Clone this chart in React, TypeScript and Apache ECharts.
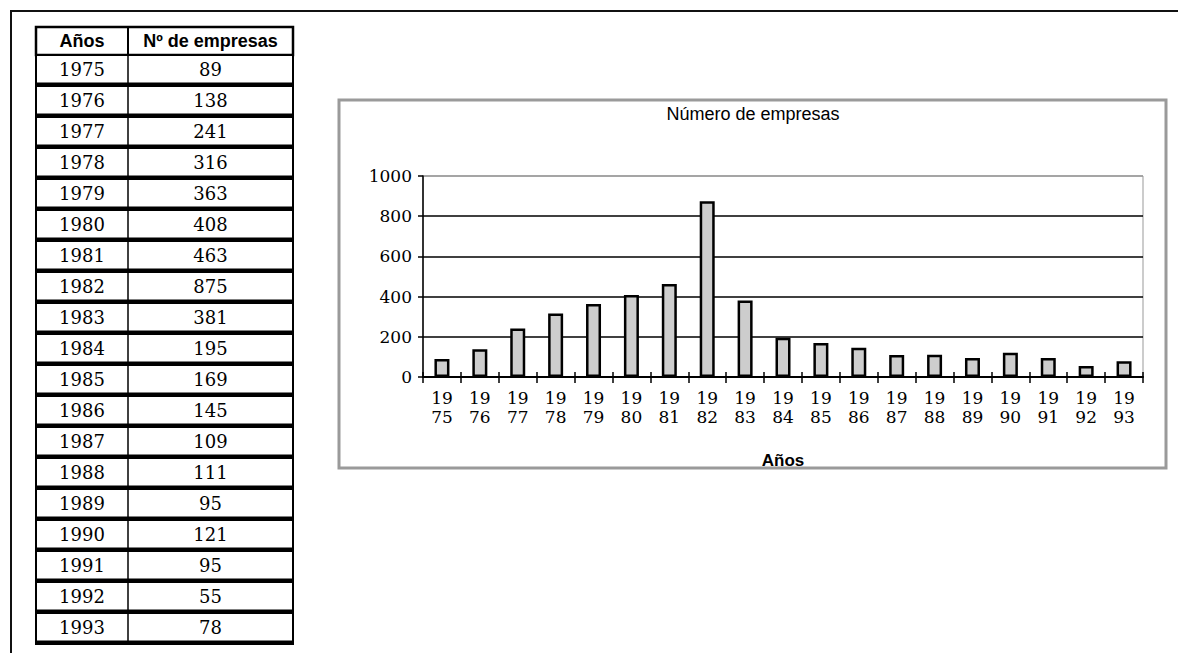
import React, { useEffect, useRef } from "react";
import * as echarts from "echarts";

const years = ["1975","1976","1977","1978","1979","1980","1981","1982","1983","1984","1985","1986","1987","1988","1989","1990","1991","1992","1993"];
const empresas = [89,138,241,316,363,408,463,875,381,195,169,145,109,111,95,121,95,55,78];
const headers = ["Años", "Nº de empresas"];
const chartTitle = "Número de empresas";
const xAxisName = "Años";

const SERIF = "'DejaVu Serif', serif";
const SANS = "'Liberation Sans', Arial, sans-serif";

export default function App() {
  const ref = useRef<HTMLDivElement>(null);
  useEffect(() => {
    if (!ref.current) return;
    const chart = echarts.init(ref.current, undefined, { renderer: "svg" });

    const tX = 36, tW = 257, colX = 128, headTop = 27, headH = 28, rowTop0 = 55, rowH = 31;
    const g: any[] = [];
    // page frame
    g.push({ type: "line", shape: { x1: 10, y1: 11, x2: 1178, y2: 11 }, style: { stroke: "#111", lineWidth: 2 } });
    g.push({ type: "line", shape: { x1: 11, y1: 11, x2: 11, y2: 653 }, style: { stroke: "#111", lineWidth: 2 } });
    // header
    g.push({ type: "rect", shape: { x: tX, y: headTop, width: tW, height: headH }, style: { fill: "#fff", stroke: "#000", lineWidth: 2.5 } });
    g.push({ type: "line", shape: { x1: colX, y1: headTop, x2: colX, y2: headTop + headH }, style: { stroke: "#000", lineWidth: 2 } });
    g.push({ type: "text", x: (tX + colX) / 2, y: headTop + headH / 2, style: { text: headers[0], font: `bold 18px ${SANS}`, fill: "#000", align: "center", verticalAlign: "middle" } });
    g.push({ type: "text", x: (colX + tX + tW) / 2, y: headTop + headH / 2, style: { text: headers[1], font: `bold 18px ${SANS}`, fill: "#000", align: "center", verticalAlign: "middle" } });
    years.forEach((yr, i) => {
      const top = rowTop0 + i * rowH;
      g.push({ type: "rect", shape: { x: tX, y: top, width: tW, height: rowH }, style: { fill: "#fff", stroke: "#000", lineWidth: 2 } });
      g.push({ type: "line", shape: { x1: tX, y1: top + rowH - 1.5, x2: tX + tW, y2: top + rowH - 1.5 }, style: { stroke: "#000", lineWidth: 4 } });
      g.push({ type: "line", shape: { x1: colX, y1: top, x2: colX, y2: top + rowH }, style: { stroke: "#000", lineWidth: 1.5 } });
      g.push({ type: "text", x: (tX + colX) / 2, y: top + 14, style: { text: yr, font: `18px ${SERIF}`, fill: "#000", align: "center", verticalAlign: "middle" } });
      g.push({ type: "text", x: (colX + tX + tW) / 2, y: top + 14, style: { text: String(empresas[i]), font: `18px ${SERIF}`, fill: "#000", align: "center", verticalAlign: "middle" } });
    });
    // chart frame
    g.push({ type: "rect", shape: { x: 339, y: 100, width: 827, height: 368 }, style: { fill: "none", stroke: "#9a9a9a", lineWidth: 3 } });
    g.push({ type: "text", x: 753, y: 114, style: { text: chartTitle, font: `18px ${SANS}`, fill: "#000", align: "center", verticalAlign: "middle" } });

    chart.setOption({
      animation: false,
      backgroundColor: "#fff",
      grid: { left: 423, top: 176, right: 35, bottom: 276, show: true, borderColor: "#999", borderWidth: 1 },
      xAxis: [
        {
          type: "category",
          data: years,
          position: "bottom",
          name: xAxisName,
          nameLocation: "middle",
          nameGap: 75,
          nameTextStyle: { fontFamily: SANS, fontSize: 17, fontWeight: "bold", color: "#000" },
          axisLine: { lineStyle: { color: "#000", width: 2 } },
          axisTick: { show: true, interval: 0, length: 6, lineStyle: { color: "#000", width: 1.5 } },
          axisLabel: {
            interval: 0,
            margin: 11,
            fontFamily: SERIF,
            fontSize: 17,
            lineHeight: 19,
            color: "#000",
            formatter: (v: string) => v.slice(0, 2) + "\n" + v.slice(2),
          },
        },
        {
          type: "category",
          data: years,
          position: "bottom",
          axisLine: { show: false },
          axisTick: { show: true, inside: true, interval: 0, length: 5, lineStyle: { color: "#000", width: 1.5 } },
          axisLabel: { show: false },
        },
      ],
      yAxis: {
        type: "value",
        min: 0,
        max: 1000,
        interval: 200,
        axisLine: { show: true, lineStyle: { color: "#000", width: 1.5 } },
        axisTick: { show: true, length: 5, lineStyle: { color: "#000", width: 1.5 } },
        axisLabel: { margin: 11, fontFamily: SERIF, fontSize: 17, color: "#000", formatter: (v: number) => String(v) },
        splitLine: { show: true, lineStyle: { color: ["#000", "#000", "#000", "#000", "#000", "#999"], width: 1.5 } },
      },
      series: [
        {
          type: "bar",
          data: empresas,
          barWidth: 15,
          itemStyle: { color: "#cdcdcd", borderColor: "#000", borderWidth: 2.5 },
        },
      ],
      graphic: g,
    });
    return () => chart.dispose();
  }, []);
  return (
    <div
      ref={ref}
      style={{ position: "absolute", left: 0, top: 0, width: 1178, height: 653, background: "#fff" }}
    />
  );
}
